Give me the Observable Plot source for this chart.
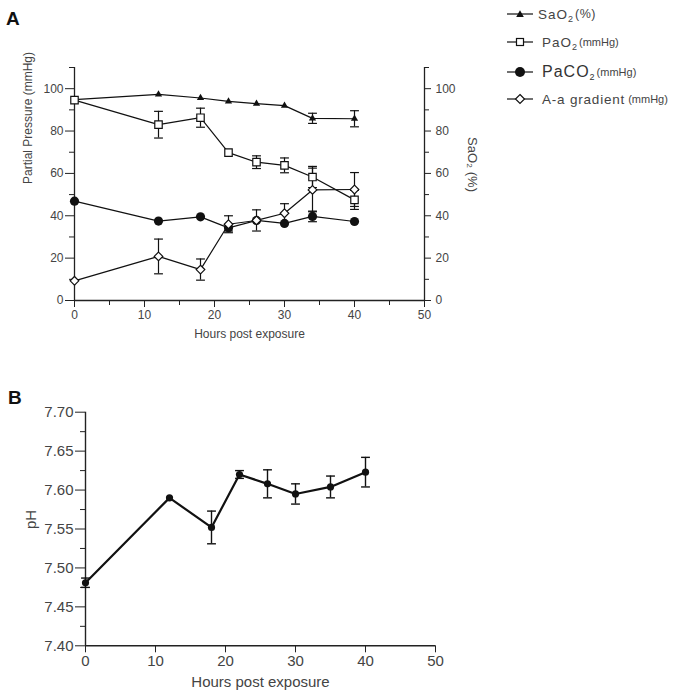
<!DOCTYPE html>
<html><head><meta charset="utf-8">
<script src="https://cdn.jsdelivr.net/npm/d3@7"></script>
<script src="https://cdn.jsdelivr.net/npm/@observablehq/plot@0.6"></script>
<style>
body{margin:0;background:#fff;font-family:"Liberation Sans",Arial,Helvetica,sans-serif;}
#wrap{position:relative;width:678px;height:698px;background:#fff;overflow:hidden}
#panelA,#panelB{position:absolute;left:0;}
#panelA{top:0}
#panelB{top:380px}
.plabel{position:absolute;font-weight:bold;font-size:19px;color:#111;line-height:1}
#legend{position:absolute;left:505px;top:0;color:#444}
.row{position:absolute;left:0;white-space:nowrap;height:20px;display:flex;align-items:center}
.row svg{margin-right:7px}
.main{font-size:13.5px;letter-spacing:1px}
.big{font-size:16px;letter-spacing:1px;color:#333}
.unit{font-size:11px;margin-left:2px}
.pct{font-size:12.5px;margin-left:2px;letter-spacing:0.5px}
sub{font-size:9px;vertical-align:-3px;line-height:0;letter-spacing:0}
</style></head>
<body>
<div id="wrap">
  <div id="panelA"></div>
  <div id="panelB"></div>
  <div class="plabel" style="left:6px;top:9px">A</div>
  <div class="plabel" style="left:8px;top:388px">B</div>
  <div id="legend">
    <div class="row" style="top:4px">
      <svg width="30" height="14" style="margin-right:3px"><line x1="2" y1="7" x2="28" y2="7" stroke="#111" stroke-width="1.2"/><path d="M15,3.3L18.8,10L11.2,10Z" fill="#111"/></svg>
      <span class="main">SaO<sub>2</sub></span><span class="pct">(%)</span>
    </div>
    <div class="row" style="top:32px">
      <svg width="30" height="14"><line x1="2" y1="7" x2="28" y2="7" stroke="#111" stroke-width="1.2"/><rect x="11.5" y="3.5" width="7" height="7" fill="#fff" stroke="#111" stroke-width="1.2"/></svg>
      <span class="main">PaO<sub>2</sub></span><span class="unit">(mmHg)</span>
    </div>
    <div class="row" style="top:62px">
      <svg width="30" height="14"><line x1="2" y1="7" x2="28" y2="7" stroke="#111" stroke-width="1.2"/><circle cx="15" cy="7" r="5" fill="#111"/></svg>
      <span class="big">PaCO<sub>2</sub></span><span class="unit">(mmHg)</span>
    </div>
    <div class="row" style="top:89px">
      <svg width="30" height="14"><line x1="2" y1="7" x2="28" y2="7" stroke="#111" stroke-width="1.2"/><path d="M15,2.5L19.5,7L15,11.5L10.5,7Z" fill="#fff" stroke="#111" stroke-width="1.2"/></svg>
      <span class="main" style="letter-spacing:0.8px">A-a gradient</span><span class="unit" style="margin-left:3px">(mmHg)</span>
    </div>
  </div>
</div>
<script>
// ---------- Panel A data ----------
const hoursA = [0, 12, 18, 22, 26, 30, 34, 40];
const sao2     = [94.8, 97.3, 95.6, 94.0, 92.9, 92.0, 86.0, 85.8];
const sao2Err  = [0, 0, 0, 0, 0, 0, 2.4, 3.8];
const pao2     = [94.6, 83.0, 86.3, 69.8, 65.3, 63.8, 58.3, 47.5];
const pao2Err  = [0, 6.3, 4.5, 0, 3.0, 3.5, 5.0, 4.5];
const paco2    = [46.9, 37.5, 39.5, 34.3, 37.8, 36.4, 39.7, 37.3];
const paco2Err = [0, 0, 0, 1.5, 0, 0, 2.5, 0];
const aaGrad   = [9.3, 20.8, 14.6, 36.0, 37.8, 41.2, 52.2, 52.4];
const aaErr    = [0, 8.2, 5.0, 4.0, 5.0, 4.5, 10.3, 8.0];
const xTicksA = [0, 10, 20, 30, 40, 50];
const xMinorA = [5, 15, 25, 35, 45];
const yTicksA = [0, 20, 40, 60, 80, 100];
const yMinorA = [10, 30, 50, 70, 90, 110];

// ---------- Panel B data ----------
const hoursB = [0, 12, 18, 22, 26, 30, 35, 40];
const ph     = [7.481, 7.590, 7.552, 7.620, 7.608, 7.595, 7.604, 7.623];
const phErr  = [0.006, 0, 0.021, 0.005, 0.018, 0.013, 0.014, 0.019];
const xTicksB = [0, 10, 20, 30, 40, 50];
const yTicksB = [7.40, 7.45, 7.50, 7.55, 7.60, 7.65, 7.70];
const yMinorB = [7.425, 7.475, 7.525, 7.575, 7.625, 7.675];

const fontFam = '"Liberation Sans", Arial, Helvetica, sans-serif';
const ink = "#111";
const zip = (hs, vs, es) => hs.map((h, i) => ({h, v: vs[i], e: es[i]}));
const cap = {draw(ctx, size) { const w = Math.sqrt(size); ctx.moveTo(-w / 2, 0); ctx.lineTo(w / 2, 0); }};

function errMarks(rows, capR, sw) {
  const r = rows.filter(d => d.e > 0);
  return [
    Plot.ruleX(r, {x: "h", y1: d => d.v - d.e, y2: d => d.v + d.e, stroke: ink, strokeWidth: sw}),
    Plot.dot(r, {x: "h", y: d => d.v + d.e, symbol: cap, r: capR, fill: "none", stroke: ink, strokeWidth: sw}),
    Plot.dot(r, {x: "h", y: d => d.v - d.e, symbol: cap, r: capR, fill: "none", stroke: ink, strokeWidth: sw})
  ];
}

const sSa = zip(hoursA, sao2, sao2Err);
const sPa = zip(hoursA, pao2, pao2Err);
const sPc = zip(hoursA, paco2, paco2Err);
const sAa = zip(hoursA, aaGrad, aaErr);

const plotA = Plot.plot({
  width: 678, height: 360,
  marginTop: 67, marginBottom: 60, marginLeft: 74, marginRight: 254,
  style: {fontFamily: fontFam, fontSize: "12px", color: "#444", background: "transparent"},
  x: {domain: [0, 50]},
  y: {domain: [0, 110]},
  marks: [
    Plot.axisX({ticks: xTicksA, tickSize: 7, tickPadding: 3, label: null, stroke: "#222"}),
    Plot.axisX({ticks: xMinorA, tickSize: 5, tickFormat: () => "", label: null, stroke: "#222"}),
    Plot.axisY({ticks: yTicksA, tickSize: 9, tickPadding: 2, label: null, stroke: "#222"}),
    Plot.axisY({ticks: yMinorA, tickSize: 5, tickFormat: () => "", label: null, stroke: "#222"}),
    Plot.axisY({anchor: "right", ticks: yTicksA, tickSize: 6, tickPadding: 5, label: null, stroke: "#222"}),
    Plot.axisY({anchor: "right", ticks: yMinorA, tickSize: 4, tickFormat: () => "", label: null, stroke: "#222"}),
    Plot.ruleX([0, 50], {stroke: "#222", strokeWidth: 1.3}),
    Plot.ruleY([0], {stroke: "#222", strokeWidth: 1.3}),
    Plot.line(sSa, {x: "h", y: "v", stroke: ink, strokeWidth: 1.2}),
    Plot.line(sPa, {x: "h", y: "v", stroke: ink, strokeWidth: 1.2}),
    Plot.line(sPc, {x: "h", y: "v", stroke: ink, strokeWidth: 1.2}),
    Plot.line(sAa, {x: "h", y: "v", stroke: ink, strokeWidth: 1.2}),
    ...errMarks(sSa, 5, 1.2),
    ...errMarks(sPa, 5, 1.2),
    ...errMarks(sPc, 5, 1.2),
    ...errMarks(sAa, 5, 1.2),
    Plot.dot(sSa, {x: "h", y: "v", symbol: "triangle", r: 2.7, fill: ink, stroke: "none"}),
    Plot.dot(sPc, {x: "h", y: "v", symbol: "circle", r: 4.6, fill: ink, stroke: "none"}),
    Plot.dot(sPa, {x: "h", y: "v", symbol: "square", r: 4.2, fill: "white", stroke: ink, strokeWidth: 1.2}),
    Plot.dot(sAa, {x: "h", y: "v", symbol: "diamond2", r: 3.9, fill: "white", stroke: ink, strokeWidth: 1.2}),
    Plot.text(["Partial Pressure (mmHg)"], {frameAnchor: "left", dx: -46, rotate: -90, fontSize: 12, fill: "#444"}),
    Plot.text(["SaO\u2082 (%)"], {frameAnchor: "right", dx: 48, dy: 8, rotate: 90, fontSize: 13, fill: "#444"}),
    Plot.text(["Hours post exposure"], {frameAnchor: "bottom", dy: 37, fontSize: 12, fill: "#444"})
  ]
});
document.getElementById("panelA").appendChild(plotA);

const sPh = zip(hoursB, ph, phErr);
const plotB = Plot.plot({
  width: 678, height: 318,
  marginTop: 31.7, marginBottom: 52.7, marginLeft: 85, marginRight: 243,
  style: {fontFamily: fontFam, fontSize: "15px", color: "#444", background: "transparent"},
  x: {domain: [0, 50]},
  y: {domain: [7.40, 7.70]},
  marks: [
    Plot.axisX({ticks: xTicksB, tickSize: 7, tickPadding: 3, label: null, stroke: "#222"}),
    Plot.axisY({ticks: yTicksB, tickSize: 10, tickPadding: 2, tickFormat: d3.format(".2f"), label: null, stroke: "#222"}),
    Plot.axisY({ticks: yMinorB, tickSize: 5, tickFormat: () => "", label: null, stroke: "#222"}),
    Plot.ruleX([0], {stroke: "#222", strokeWidth: 1.4}),
    Plot.ruleY([7.40], {stroke: "#222", strokeWidth: 1.4}),
    Plot.line(sPh, {x: "h", y: "v", stroke: ink, strokeWidth: 2.2}),
    ...errMarks(sPh, 5, 1.4),
    Plot.dot(sPh, {x: "h", y: "v", symbol: "circle", r: 3.6, fill: ink, stroke: "none"}),
    Plot.text(["pH"], {frameAnchor: "left", dx: -54, rotate: -90, fontSize: 15, fill: "#444"}),
    Plot.text(["Hours post exposure"], {frameAnchor: "bottom", dy: 41, fontSize: 15, fill: "#444"})
  ]
});
document.getElementById("panelB").appendChild(plotB);
</script>
</body></html>
